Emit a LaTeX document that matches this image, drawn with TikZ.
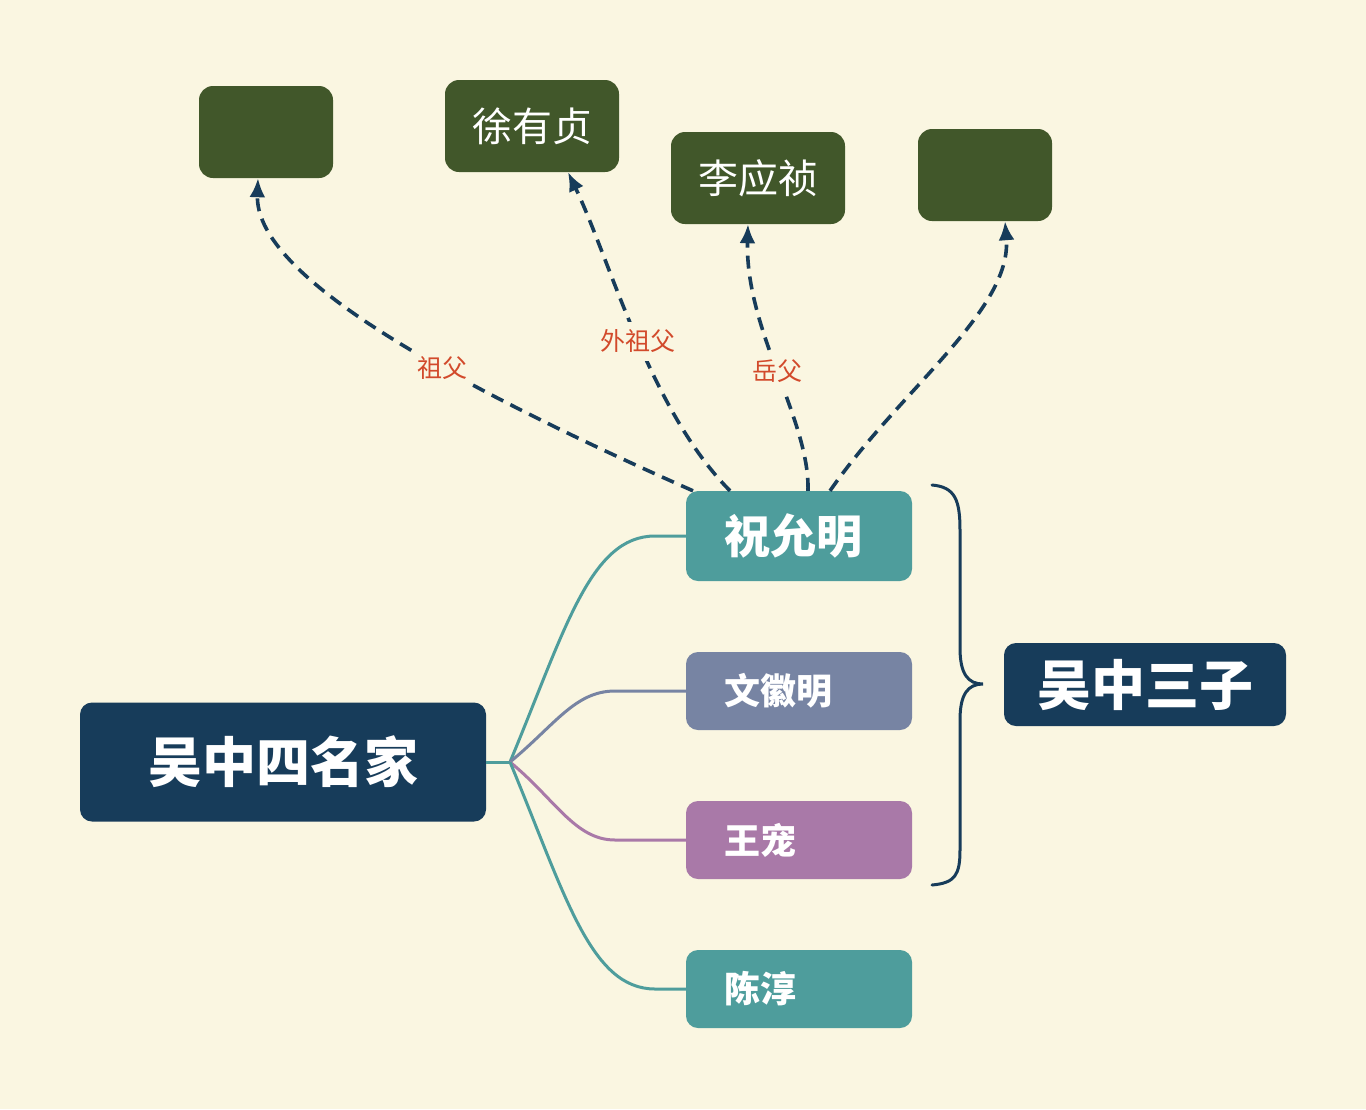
\documentclass[tikz,border=0pt]{standalone}
\usepackage{fontspec}
\setmainfont{Noto Sans CJK SC}
\usetikzlibrary{arrows.meta}
\definecolor{bg}{HTML}{FAF6E1}
\definecolor{navy}{HTML}{173C5A}
\definecolor{tealc}{HTML}{4E9D9C}
\definecolor{slate}{HTML}{7784A3}
\definecolor{mauve}{HTML}{A979A8}
\definecolor{olive}{HTML}{41572A}
\definecolor{lblred}{HTML}{D24A2B}
\begin{document}
\begin{tikzpicture}[x=1pt,y=-1pt,
  rootbox/.style={fill=navy, text=white, rounded corners=12pt, inner sep=0pt,
    font=\fontsize{54}{58}\selectfont\bfseries},
  childbox/.style={text=white, rounded corners=12pt, text width=150pt, inner xsep=38pt,
    inner ysep=0pt, align=left, minimum height=78pt, font=\fontsize{36}{40}\selectfont\bfseries},
  topbox/.style={fill=olive, text=white, rounded corners=14pt, inner sep=0pt,
    minimum height=92pt, font=\fontsize{40}{44}\selectfont},
  branch/.style={line width=3pt},
  rel/.style={draw=navy, line width=3.6pt, dash pattern=on 13pt off 8pt,
    -{Latex[length=19pt,width=16pt]}},
  lbl/.style={fill=bg, text=lblred, inner xsep=4pt, inner ysep=8pt, font=\fontsize{25}{28}\selectfont}
]
\fill[bg] (0,0) rectangle (1366,1109);
\useasboundingbox (0,0) rectangle (1366,1109);

% main nodes
\node[rootbox, minimum width=406pt, minimum height=119pt] (root) at (283,762) {吴中四名家};
\node[rootbox, minimum width=282pt, minimum height=83pt] (sanzi) at (1145,684.5) {吴中三子};
\node[childbox, fill=tealc, minimum height=90pt, font=\fontsize{46}{50}\selectfont\bfseries] (zhu) at (799,536) {祝允明};
\node[childbox, fill=slate] (wen) at (799,691) {文徽明};
\node[childbox, fill=mauve] (wang) at (799,840) {王宠};
\node[childbox, fill=tealc] (chen) at (799,989) {陈淳};

% top nodes
\node[topbox, minimum width=134pt] (t1) at (266,132) {};
\node[topbox, minimum width=174pt] (t2) at (532,126) {徐有贞};
\node[topbox, minimum width=174pt] (t3) at (758,178) {李应祯};
\node[topbox, minimum width=134pt] (t4) at (985,175) {};

% branches
\coordinate (hub) at (510,762);
\draw[branch, draw=tealc] (root.east) -- (hub);
\draw[branch, draw=tealc] (hub) .. controls (565,630) and (590,536) .. (655,536) -- (zhu.west);
\draw[branch, draw=slate] (hub) .. controls (555,725) and (575,691) .. (615,691) -- (wen.west);
\draw[branch, draw=mauve] (hub) .. controls (555,799) and (575,840) .. (615,840) -- (wang.west);
\draw[branch, draw=tealc] (hub) .. controls (565,894) and (590,989) .. (655,989) -- (chen.west);

% relations
\draw[rel] ([xshift=-106pt]zhu.north) .. controls (420,370) and (255,270) .. ([xshift=-8pt]t1.south)
  node[lbl, pos=0.36] {祖父};
\draw[rel] ([xshift=-69pt]zhu.north) .. controls (650,410) and (610,260) .. ([xshift=36pt]t2.south)
  node[lbl, pos=0.48] {外祖父};
\draw[rel] ([xshift=9pt]zhu.north) .. controls (810,420) and (745,330) .. ([xshift=-10pt]t3.south)
  node[lbl, pos=0.5] {岳父};
\draw[rel] ([xshift=31pt]zhu.north) .. controls (900,390) and (1012,310) .. ([xshift=20pt]t4.south);

% brace
\draw[draw=navy, line width=3pt, line cap=round]
  (932,485) .. controls (955,487) and (960,500) .. (960,530) -- (960,648)
  .. controls (960,674) and (968,684) .. (983,684)
  .. controls (968,684) and (960,694) .. (960,720) -- (960,850)
  .. controls (960,875) and (955,883) .. (932,885);
\end{tikzpicture}
\end{document}
